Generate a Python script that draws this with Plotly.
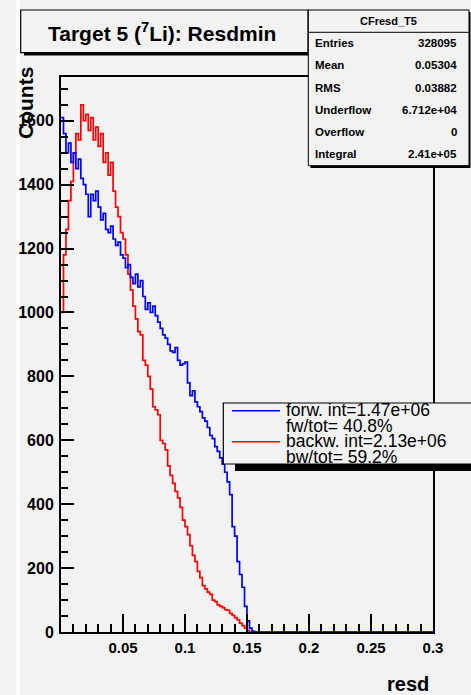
import numpy as np
import plotly.graph_objects as go

# ---- data (bin width 0.002, range 0 - 0.3) ----
bin_width = 0.002
x_min, x_max = 0.0, 0.3

forward_counts = [
    1610, 1560, 1500, 1530, 1470, 1500, 1450, 1480, 1420, 1400,
    1370, 1300, 1370, 1350, 1380, 1330, 1290, 1310, 1260, 1250,
    1270, 1230, 1210, 1220, 1180, 1170, 1140, 1150, 1110, 1090,
    1120, 1080, 1100, 1050, 1010, 1030, 1000, 1020, 990, 970,
    950, 930, 920, 900, 880, 875, 890, 850, 835, 840,
    845, 780, 740, 755, 720, 705, 690, 670, 660, 640,
    615, 605, 580, 565, 545, 525, 500, 470, 430, 330,
    300, 220, 180, 140, 80, 35, 12, 3, 0, 0,
    0, 0, 0, 0, 0, 0, 0, 0, 0, 0,
    0, 0, 0, 0, 0, 0, 0, 0, 0, 0,
    0, 0, 0, 0, 0, 0, 0, 0, 0, 0,
    0, 0, 0, 0, 0, 0, 0, 0, 0, 0,
    0, 0, 0, 0, 0, 0, 0, 0, 0, 0,
    0, 0, 0, 0, 0, 0, 0, 0, 0, 0,
    0, 0, 0, 0, 0, 0, 0, 0, 0, 0,
]

backward_counts = [
    1000, 1180, 1260, 1350, 1410, 1500, 1560, 1540, 1650, 1600,
    1620, 1570, 1610, 1540, 1580, 1520, 1560, 1470, 1500, 1430,
    1470, 1380, 1330, 1300, 1250, 1230, 1180, 1120, 1070, 1020,
    980, 940, 930, 850, 835, 800, 760, 705, 695, 680,
    600, 590, 570, 520, 490, 465, 440, 420, 390, 350,
    330, 305, 270, 240, 220, 190, 170, 145, 135, 125,
    118, 100, 95, 85, 80, 76, 70, 68, 58, 52,
    45, 38, 28, 20, 12, 5, 0, 0, 0, 0,
    0, 0, 0, 0, 0, 0, 0, 0, 0, 0,
    0, 0, 0, 0, 0, 0, 0, 0, 0, 0,
    0, 0, 0, 0, 0, 0, 0, 0, 0, 0,
    0, 0, 0, 0, 0, 0, 0, 0, 0, 0,
    0, 0, 0, 0, 0, 0, 0, 0, 0, 0,
    0, 0, 0, 0, 0, 0, 0, 0, 0, 0,
    0, 0, 0, 0, 0, 0, 0, 0, 0, 0,
]

x_tick_vals = [0.05, 0.1, 0.15, 0.2, 0.25, 0.3]
x_tick_text = ["0.05", "0.1", "0.15", "0.2", "0.25", "0.3"]
y_tick_vals = [0, 200, 400, 600, 800, 1000, 1200, 1400, 1600]

stats_labels = ["Entries", "Mean", "RMS", "Underflow", "Overflow", "Integral"]
stats_values = ["328095", "0.05304", "0.03882", "6.712e+04", "0", "2.41e+05"]
legend_lines = ["forw. int=1.47e+06", "fw/tot= 40.8%", "backw. int=2.13e+06", "bw/tot= 59.2%"]

# ---- layout geometry ----
W, H = 471, 695
L, R, T, B = 61, 38, 77, 63
BG = "#f2f2f2"
FONT = "Liberation Sans, Arial, Helvetica, sans-serif"


def px(x):
    return (x - L) / (W - L - R)


def py(y):
    return (H - B - y) / (H - T - B)


def step_xy(counts):
    n = len(counts)
    edges = x_min + bin_width * np.arange(n + 1)
    ys = list(counts) + [counts[-1]]
    return edges, ys


fig = go.Figure()
for counts, color in [(backward_counts, "#ff0000"), (forward_counts, "#0000ff")]:
    xs, ys = step_xy(counts)
    fig.add_trace(go.Scatter(x=xs, y=ys, mode="lines", line=dict(color=color, width=1.7, shape="hv"),
                             showlegend=False, hoverinfo="skip"))

fig.update_layout(
    width=W, height=H, margin=dict(l=L, r=R, t=T, b=B, pad=0),
    paper_bgcolor=BG, plot_bgcolor=BG, showlegend=False,
    font=dict(family=FONT, color="black"),
)
fig.update_xaxes(range=[x_min, x_max], tickvals=x_tick_vals, ticktext=x_tick_text,
                 ticks="inside", ticklen=18, tickwidth=1.5, tickcolor="black",
                 minor=dict(dtick=0.01, tick0=0, ticks="inside", ticklen=8, tickwidth=1.5, tickcolor="black"),
                 showline=True, linecolor="black", linewidth=2, mirror=True, showgrid=False, zeroline=False,
                 tickfont=dict(size=15, family=FONT, weight="bold"), ticklabelstandoff=1)
fig.update_yaxes(range=[0, 1737], tickvals=y_tick_vals,
                 ticks="inside", ticklen=13, tickwidth=1.5, tickcolor="black",
                 minor=dict(dtick=50, tick0=0, ticks="inside", ticklen=7, tickwidth=1.5, tickcolor="black"),
                 showline=True, linecolor="black", linewidth=2, mirror=True, showgrid=False, zeroline=False,
                 tickfont=dict(size=16, family=FONT, weight="bold"), ticklabelstandoff=2)

shapes = []
ann = []

# white strip on left
shapes.append(dict(type="rect", xref="paper", yref="paper", x0=px(16.5), x1=px(19.5), y0=py(H), y1=py(0),
                   line=dict(width=0), fillcolor="white", layer="below"))

# title box with shadow
shapes.append(dict(type="rect", xref="paper", yref="paper", x0=px(24), x1=px(311), y0=py(55.5), y1=py(13),
                   line=dict(width=0), fillcolor="black"))
shapes.append(dict(type="rect", xref="paper", yref="paper", x0=px(20.7), x1=px(308), y0=py(52.7), y1=py(10),
                   line=dict(color="black", width=1.2), fillcolor=BG))
ann.append(dict(x=px(162), y=py(32), xref="paper", yref="paper", showarrow=False,
                text="Target 5 (<sup>7</sup>Li): Resdmin", font=dict(size=21, family=FONT, weight="bold"),
                xanchor="center", yanchor="middle"))

# stats box with shadow
shapes.append(dict(type="rect", xref="paper", yref="paper", x0=px(310.5), x1=px(470.5), y0=py(168), y1=py(12),
                   line=dict(width=0), fillcolor="black"))
shapes.append(dict(type="rect", xref="paper", yref="paper", x0=px(308.3), x1=px(469), y0=py(165.7), y1=py(10),
                   line=dict(color="black", width=1), fillcolor=BG))
shapes.append(dict(type="line", xref="paper", yref="paper", x0=px(308.3), x1=px(469), y0=py(32.3), y1=py(32.3),
                   line=dict(color="black", width=1)))
ann.append(dict(x=px(388.5), y=py(21), xref="paper", yref="paper", showarrow=False, text="CFresd_T5",
                font=dict(size=11, family=FONT, weight="bold"), xanchor="center", yanchor="middle"))
row_y = [43, 65, 87.7, 110, 132, 154]
for lab, val, yy in zip(stats_labels, stats_values, row_y):
    ann.append(dict(x=px(313), y=py(yy), xref="paper", yref="paper", showarrow=False, text=lab,
                    font=dict(size=11.5, family=FONT, weight="bold"), xanchor="left", yanchor="middle"))
    ann.append(dict(x=px(458.5), y=py(yy), xref="paper", yref="paper", showarrow=False, text=val,
                    font=dict(size=11.5, family=FONT, weight="bold"), xanchor="right", yanchor="middle"))

# legend box with shadow
shapes.append(dict(type="rect", xref="paper", yref="paper", x0=px(235), x1=px(475), y0=py(471), y1=py(410),
                   line=dict(width=0), fillcolor="black"))
shapes.append(dict(type="rect", xref="paper", yref="paper", x0=px(223.3), x1=px(478), y0=py(464), y1=py(403),
                   line=dict(color="black", width=1.2), fillcolor=BG))
shapes.append(dict(type="line", xref="paper", yref="paper", x0=px(232), x1=px(280), y0=py(410.7), y1=py(410.7),
                   line=dict(color="#0000ff", width=1.6)))
shapes.append(dict(type="line", xref="paper", yref="paper", x0=px(232), x1=px(280), y0=py(441.7), y1=py(441.7),
                   line=dict(color="#ff0000", width=1.6)))
leg_y = [410, 425.5, 441, 457]
for t, yy in zip(legend_lines, leg_y):
    ann.append(dict(x=px(284), y=py(yy), xref="paper", yref="paper", showarrow=False, text=t,
                    font=dict(size=17.5, family=FONT), xanchor="left", yanchor="middle"))

# axis titles
ann.append(dict(x=px(25), y=py(65), xref="paper", yref="paper", showarrow=False, text="Counts", textangle=-90,
                font=dict(size=21, family=FONT, weight="bold"), xanchor="center", yanchor="top"))
ann.append(dict(x=px(431), y=py(684), xref="paper", yref="paper", showarrow=False, text="resd",
                font=dict(size=20, family=FONT, weight="bold"), xanchor="right", yanchor="middle"))

fig.update_layout(shapes=shapes, annotations=ann)
fig.write_html("out.html", config={"displayModeBar": False},
               post_script="document.body.style.margin='0';document.body.style.overflow='hidden';")
